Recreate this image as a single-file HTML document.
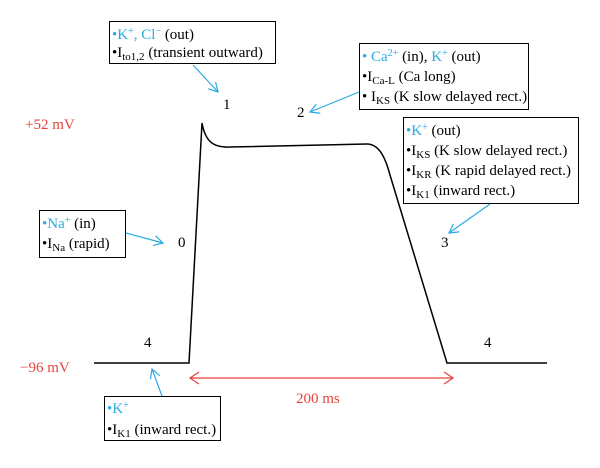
<!DOCTYPE html>
<html><head><style>
body{margin:0;background:#fff}
svg text{font-family:"Liberation Serif",serif;font-size:15px;fill:#000}
.b{fill:#29abe2}
.r{fill:#e8423c}
</style></head><body>
<svg width="600" height="463" viewBox="0 0 600 463" xmlns="http://www.w3.org/2000/svg">
<defs>
<marker id="ab" markerWidth="12" markerHeight="12" refX="10" refY="6" orient="auto" markerUnits="userSpaceOnUse"><path d="M1,1 L10,6 L1,11" fill="none" stroke="#29abe2" stroke-width="1.2"/></marker>
<marker id="ar" markerWidth="12" markerHeight="14" refX="10" refY="7" orient="auto-start-reverse" markerUnits="userSpaceOnUse"><path d="M1,1 L10,7 L1,13" fill="none" stroke="#e8423c" stroke-width="1.2"/></marker>
</defs>
<path d="M94,363 L189,363 L202,123 C205,140 212,148 230,147 L367,144 C380,144 386,160 390,175 L447,363 L547,363" fill="none" stroke="#000" stroke-width="1.5"/>
<line x1="190" y1="378" x2="453" y2="378" stroke="#e8423c" stroke-width="1.2" marker-end="url(#ar)" marker-start="url(#ar)"/>
<text x="296" y="403" class="r">200 ms</text>
<text x="25" y="129" class="r">+52 mV</text>
<text x="20" y="372" class="r">−96 mV</text>
<text x="223" y="109">1</text>
<text x="297" y="117">2</text>
<text x="441" y="247">3</text>
<text x="178" y="247">0</text>
<text x="144" y="347">4</text>
<text x="484" y="347">4</text>

<rect x="109.5" y="21.5" width="166" height="42" fill="#fff" stroke="#000"/>
<text x="112" y="39"><tspan class="b">•K<tspan font-size="10" dy="-5">+</tspan><tspan dy="5">, Cl</tspan><tspan font-size="10" dy="-5">−</tspan></tspan><tspan dy="5"> (out)</tspan></text>
<text x="112" y="57">•I<tspan font-size="11" dy="3">to1,2</tspan><tspan dy="-3"> (transient outward)</tspan></text>
<line x1="193" y1="65" x2="218" y2="92" stroke="#29abe2" stroke-width="1.2" marker-end="url(#ab)"/>

<rect x="359.5" y="43.5" width="169" height="66" fill="#fff" stroke="#000"/>
<text x="362" y="61"><tspan class="b">• Ca<tspan font-size="10" dy="-5">2+</tspan></tspan><tspan dy="5"> (in), </tspan><tspan class="b">K<tspan font-size="10" dy="-5">+</tspan></tspan><tspan dy="5"> (out)</tspan></text>
<text x="362" y="81">•I<tspan font-size="11" dy="3">Ca-L</tspan><tspan dy="-3"> (Ca long)</tspan></text>
<text x="362" y="101">• I<tspan font-size="11" dy="3">KS</tspan><tspan dy="-3"> (K slow delayed rect.)</tspan></text>
<line x1="359" y1="92" x2="310" y2="112" stroke="#29abe2" stroke-width="1.2" marker-end="url(#ab)"/>

<rect x="403.5" y="117.5" width="175" height="86" fill="#fff" stroke="#000"/>
<text x="406" y="135"><tspan class="b">•K<tspan font-size="10" dy="-5">+</tspan></tspan><tspan dy="5"> (out)</tspan></text>
<text x="406" y="155">•I<tspan font-size="11" dy="3">KS</tspan><tspan dy="-3"> (K slow delayed rect.)</tspan></text>
<text x="406" y="175">•I<tspan font-size="11" dy="3">KR</tspan><tspan dy="-3"> (K rapid delayed rect.)</tspan></text>
<text x="406" y="195">•I<tspan font-size="11" dy="3">K1</tspan><tspan dy="-3"> (inward rect.)</tspan></text>
<line x1="490" y1="204" x2="449" y2="233" stroke="#29abe2" stroke-width="1.2" marker-end="url(#ab)"/>

<rect x="39.5" y="210.5" width="86" height="47" fill="#fff" stroke="#000"/>
<text x="42" y="228"><tspan class="b">•Na<tspan font-size="10" dy="-5">+</tspan></tspan><tspan dy="5"> (in)</tspan></text>
<text x="42" y="248">•I<tspan font-size="11" dy="3">Na</tspan><tspan dy="-3"> (rapid)</tspan></text>
<line x1="126" y1="233" x2="163" y2="243" stroke="#29abe2" stroke-width="1.2" marker-end="url(#ab)"/>

<rect x="104.5" y="396.5" width="116" height="44" fill="#fff" stroke="#000"/>
<text x="107" y="413"><tspan class="b">•K<tspan font-size="10" dy="-5">+</tspan></tspan></text>
<text x="107" y="434">•I<tspan font-size="11" dy="3">K1</tspan><tspan dy="-3"> (inward rect.)</tspan></text>
<line x1="162" y1="396" x2="152" y2="369" stroke="#29abe2" stroke-width="1.2" marker-end="url(#ab)"/>
</svg>
</body></html>
